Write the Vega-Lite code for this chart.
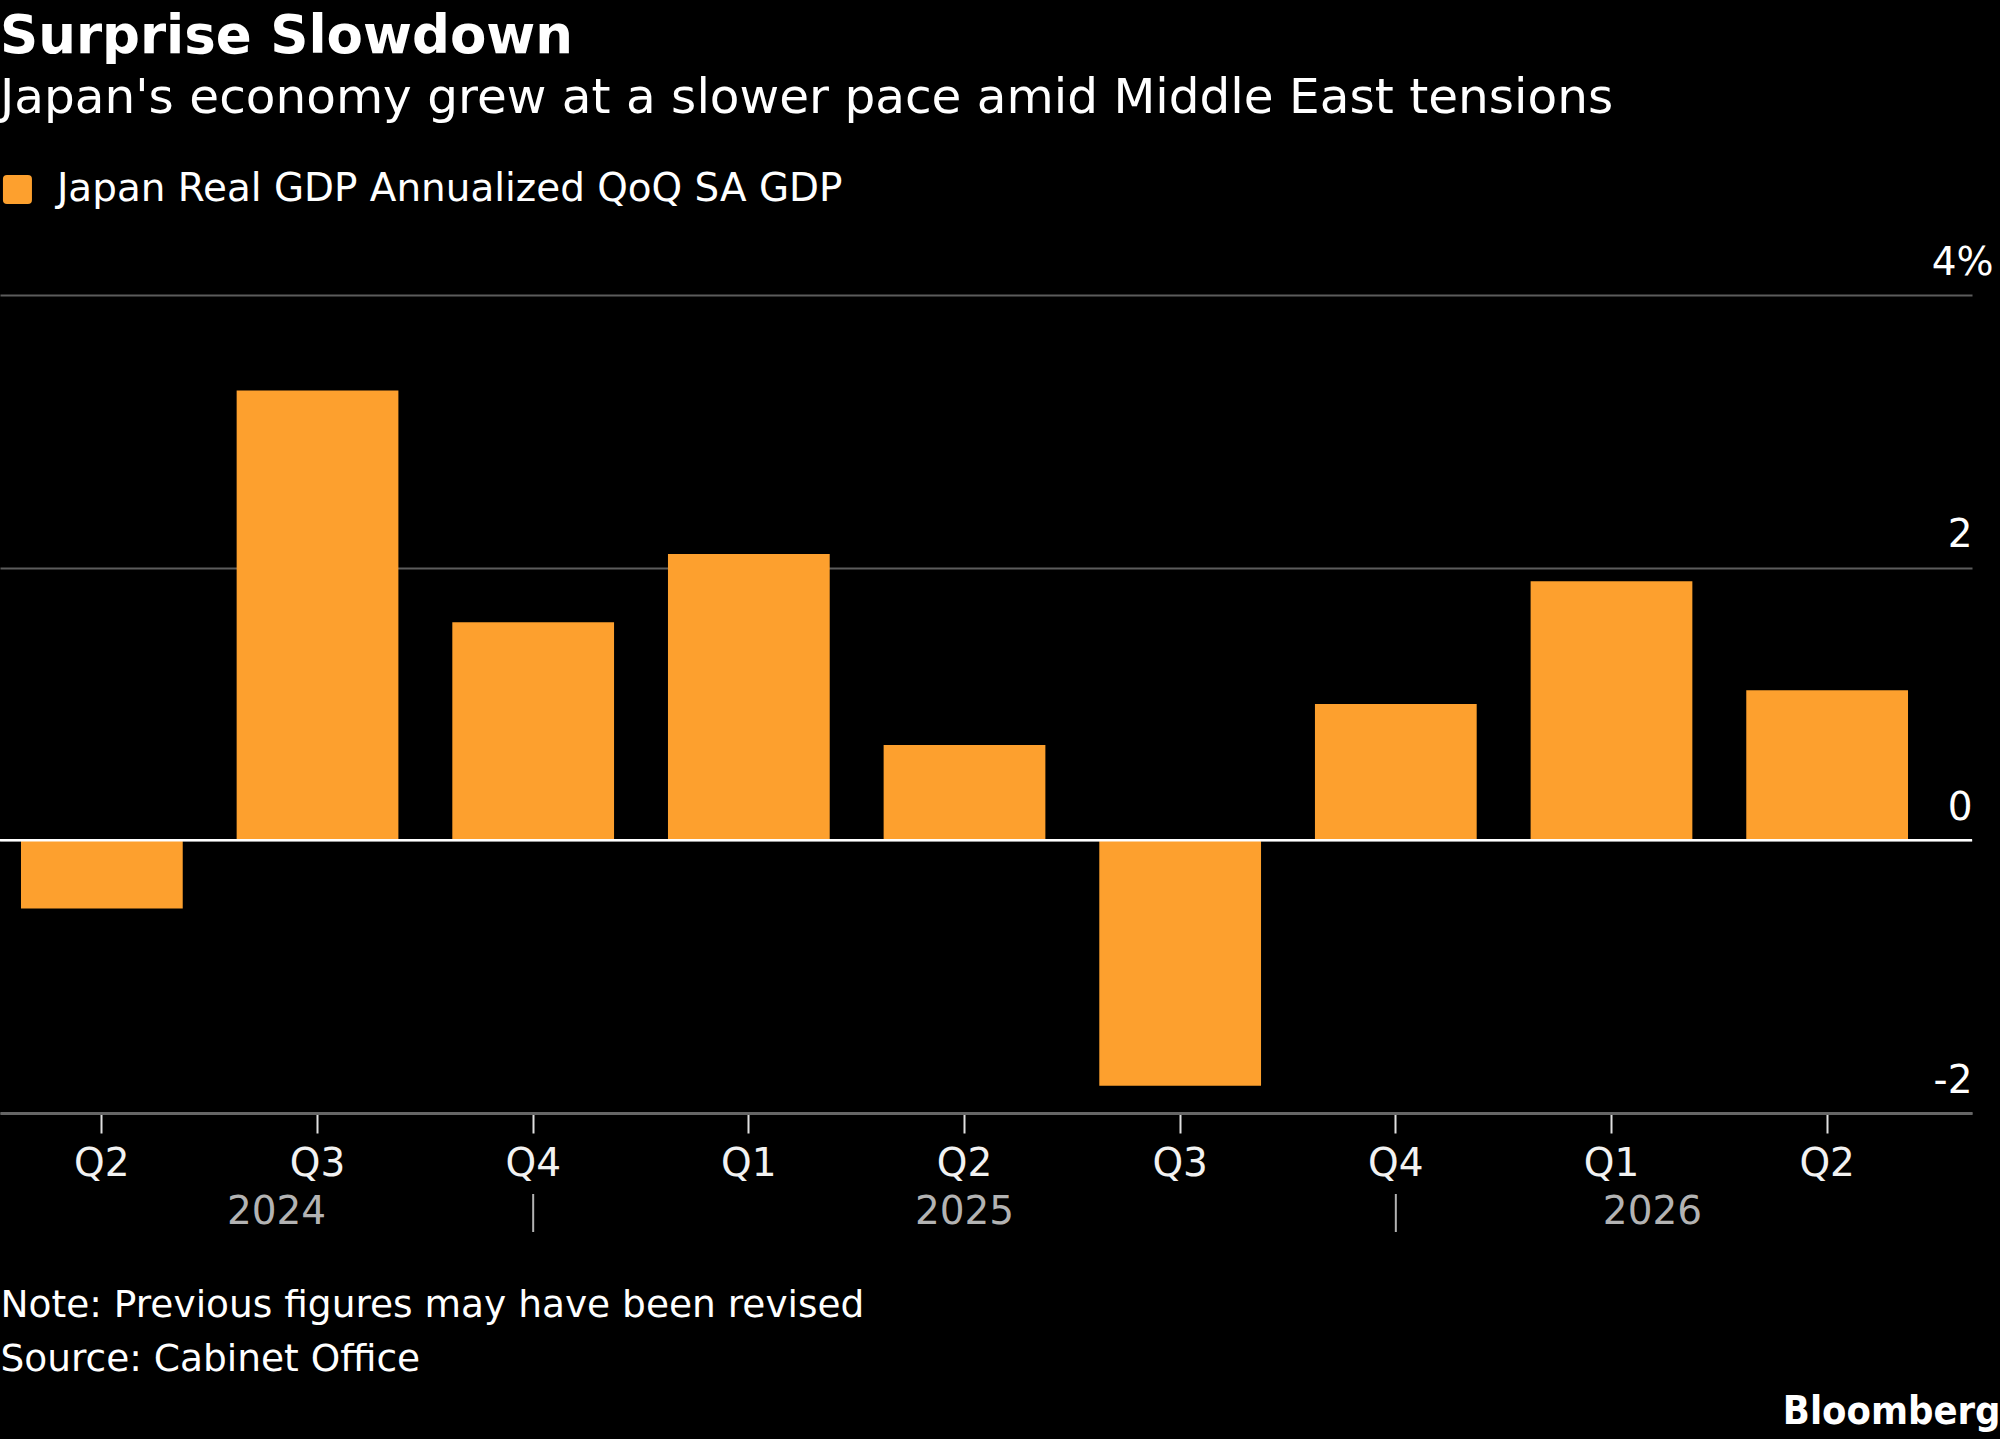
{
  "$schema": "https://vega.github.io/schema/vega-lite/v6.json",
  "description": "Japan real GDP, annualized QoQ SA, quarterly bars.",
  "width": 1972,
  "height": 818,
  "autosize": {"type": "none"},
  "padding": {"left": 0, "top": 295, "right": 28, "bottom": 326},
  "background": "#000000",
  "title": {
    "text": "Surprise Slowdown",
    "subtitle": "Japan's economy grew at a slower pace amid Middle East tensions",
    "anchor": "start",
    "frame": "group",
    "offset": 48,
    "font": "DejaVu Sans",
    "fontSize": 53,
    "fontWeight": "bold",
    "color": "#ffffff",
    "subtitleFont": "DejaVu Sans",
    "subtitleFontSize": 48.5,
    "subtitleColor": "#ffffff",
    "subtitlePadding": 11
  },
  "layer": [
    {
      "data": {
        "values": [
          {"period": "2024 Q2", "value": -0.5},
          {"period": "2024 Q3", "value": 3.3},
          {"period": "2024 Q4", "value": 1.6},
          {"period": "2025 Q1", "value": 2.1},
          {"period": "2025 Q2", "value": 0.7},
          {"period": "2025 Q3", "value": -1.8},
          {"period": "2025 Q4", "value": 1.0},
          {"period": "2026 Q1", "value": 1.9},
          {"period": "2026 Q2", "value": 1.1}
        ]
      },
      "mark": {"type": "bar", "color": "#fda02e"},
      "encoding": {
        "x": {
          "field": "period",
          "type": "nominal",
          "sort": "ascending",
          "scale": {"type": "band", "paddingInner": 0.25, "paddingOuter": 0.197, "align": 0.247},
          "axis": {
            "title": ["Note: Previous figures may have been revised", "Source: Cabinet Office"],
            "titleX": 0,
            "titleY": 203,
            "titleAlign": "left",
            "titleAnchor": "start",
            "titleBaseline": "alphabetic",
            "titleFont": "DejaVu Sans",
            "titleFontSize": 37.5,
            "titleFontWeight": "normal",
            "titleColor": "#ffffff",
            "titleLineHeight": 54,
            "labelExpr": "split(datum.label, ' ')[1]",
            "labelAngle": 0,
            "labelFont": "DejaVu Sans",
            "labelFontSize": 39,
            "labelColor": "#f2f2f2",
            "labelBaseline": "alphabetic",
            "labelPadding": 42,
            "tickSize": 20,
            "tickWidth": 2,
            "tickColor": "#e0e0e0",
            "domainColor": "#666666",
            "domainWidth": 3,
            "grid": false
          }
        },
        "y": {
          "field": "value",
          "type": "quantitative",
          "scale": {"domain": [-2, 4], "nice": false, "zero": false},
          "axis": {
            "orient": "right",
            "title": "Bloomberg",
            "titleX": 28,
            "titleY": 1128,
            "titleAngle": 0,
            "titleAlign": "right",
            "titleBaseline": "alphabetic",
            "titleFont": "DejaVu Sans Condensed, DejaVu Sans",
            "titleFontSize": 39.5,
            "titleFontWeight": "bold",
            "titleColor": "#ffffff",
            "values": [-2, 0, 2, 4],
            "labelExpr": "datum.value == 4 ? '4%' : (datum.value < 0 ? '-' + abs(datum.value) : '' + datum.value)",
            "labelAlign": "right",
            "labelBaseline": "alphabetic",
            "labelOffset": -21,
            "labelPadding": {"condition": {"test": "datum.value == 4", "value": 21}, "value": 0},
            "labelFont": "DejaVu Sans",
            "labelFontSize": 39,
            "labelColor": "#ffffff",
            "ticks": false,
            "tickSize": 0,
            "domain": false,
            "grid": true,
            "gridColor": "#5c5c5c",
            "gridWidth": 2
          }
        },
        "color": {
          "datum": "Japan Real GDP Annualized QoQ SA GDP",
          "type": "nominal",
          "scale": {"range": ["#fda02e"]},
          "legend": {
            "orient": "none",
            "legendX": -2,
            "legendY": -125,
            "title": null,
            "padding": 0,
            "symbolType": "M-0.72,-1L0.72,-1Q1,-1 1,-0.72L1,0.72Q1,1 0.72,1L-0.72,1Q-1,1 -1,0.72L-1,-0.72Q-1,-1 -0.72,-1Z",
            "symbolSize": 841,
            "symbolStrokeWidth": 0,
            "symbolOpacity": 1,
            "labelFont": "DejaVu Sans",
            "labelFontSize": 38.9,
            "labelColor": "#ffffff",
            "labelOffset": 20,
            "labelLimit": 1200
          }
        }
      }
    },
    {
      "data": {"values": [{"level": 0}]},
      "mark": {"type": "rule", "color": "#ffffff", "strokeWidth": 2.5},
      "encoding": {
        "y": {"field": "level", "type": "quantitative"}
      }
    },
    {
      "data": {
        "values": [
          {"period": "2024 Q4"},
          {"period": "2025 Q4"}
        ]
      },
      "mark": {"type": "rule", "color": "#b3b3b3", "strokeWidth": 2},
      "encoding": {
        "x": {"field": "period", "type": "nominal", "sort": "ascending"},
        "y": {"datum": -2.594, "type": "quantitative"},
        "y2": {"datum": -2.873}
      }
    },
    {
      "data": {
        "values": [
          {"period": "2024 Q3", "year": "2024"},
          {"period": "2025 Q2", "year": "2025"},
          {"period": "2026 Q1", "year": "2026"}
        ]
      },
      "mark": {
        "type": "text",
        "font": "DejaVu Sans",
        "fontSize": 39,
        "color": "#b3b3b3",
        "align": "center",
        "baseline": "alphabetic",
        "dx": {"expr": "datum.year == '2024' ? -41 : datum.year == '2026' ? 41 : 0"}
      },
      "encoding": {
        "x": {"field": "period", "type": "nominal", "sort": "ascending"},
        "y": {"datum": -2.814, "type": "quantitative"},
        "text": {"field": "year"}
      }
    }
  ],
  "config": {
    "view": {"stroke": null},
    "font": "DejaVu Sans"
  }
}
